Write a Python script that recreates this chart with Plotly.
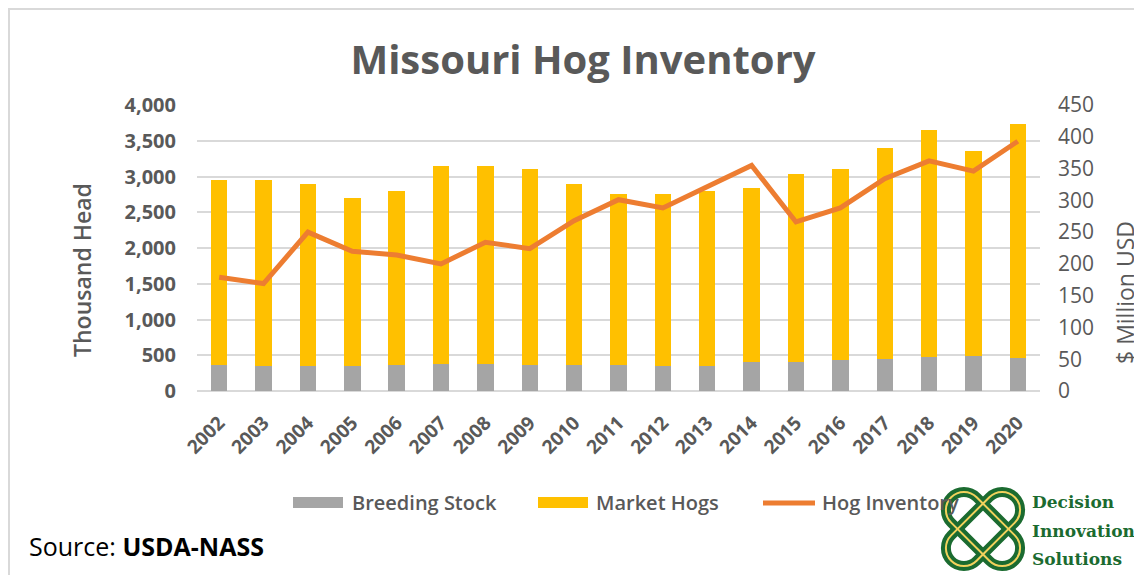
import math
import plotly.graph_objects as go

# Data (thousand head / $ million)
years = [str(y) for y in range(2002, 2021)]
breeding_stock = [360, 350, 345, 345, 360, 380, 380, 365, 365, 365, 345, 345, 400, 400, 430, 450, 475, 490, 455]
hog_totals = [2950, 2950, 2900, 2700, 2800, 3150, 3150, 3100, 2900, 2750, 2750, 2800, 2840, 3040, 3100, 3400, 3650, 3350, 3740]
market_hogs = [t - b for t, b in zip(hog_totals, breeding_stock)]
hog_inventory_value = [179, 169, 250, 220, 214, 200, 234, 224, 268, 301, 288, 322, 355, 266, 288, 334, 362, 346, 393]

# the page body has an 8px margin, so the figure starts at (8, 8)
OFF = 8
W, H = 1142 - OFF, 575 - OFF
# plot area in page pixels
L, R, T, B = 197, 1040, 105, 391

GRAY_TXT = '#595959'
GRID = '#d9d9d9'
GREEN = '#1b6b30'


def px(x):
    return (x - L) / (R - L)


def py(y):
    return (B - y) / (B - T)


def stadium(cx, cy, length, width, sign):
    # rounded loop along a diagonal, built in page pixels then mapped to paper
    u = (1 / math.sqrt(2), sign / math.sqrt(2))
    v = (1 / math.sqrt(2), -sign / math.sqrt(2))
    r = width / 2
    a = length / 2 - r
    k = 0.5523 * r

    def p(su, sv):
        x = cx + su * u[0] + sv * v[0]
        y = cy + su * u[1] + sv * v[1]
        return f'{px(x):.5f},{py(y):.5f}'

    return (f'M {p(a, r)} C {p(a + k, r)} {p(a + r, k)} {p(a + r, 0)} '
            f'C {p(a + r, -k)} {p(a + k, -r)} {p(a, -r)} '
            f'L {p(-a, -r)} C {p(-a - k, -r)} {p(-a - r, -k)} {p(-a - r, 0)} '
            f'C {p(-a - r, k)} {p(-a - k, r)} {p(-a, r)} Z')


fig = go.Figure()

fig.add_trace(go.Bar(x=years, y=breeding_stock, name='Breeding Stock',
                     marker=dict(color='#a5a5a5', line_width=0)))
fig.add_trace(go.Bar(x=years, y=market_hogs, name='Market Hogs',
                     marker=dict(color='#ffc000', line_width=0)))
fig.add_trace(go.Scatter(x=years, y=hog_inventory_value, name='Hog Inventory',
                         mode='lines', line=dict(color='#ed7d31', width=5),
                         yaxis='y2'))

shapes = []
# chart frame (top and left edges)
shapes.append(dict(type='path', xref='paper', yref='paper',
                   path=f'M {px(9)},{py(600)} L {px(9)},{py(9)} L {px(1160)},{py(9)}',
                   line=dict(color=GRID, width=2)))

# manual legend
shapes.append(dict(type='rect', xref='paper', yref='paper',
                   x0=px(293), x1=px(343), y0=py(508), y1=py(497),
                   fillcolor='#a5a5a5', line_width=0))
shapes.append(dict(type='rect', xref='paper', yref='paper',
                   x0=px(538), x1=px(588), y0=py(508), y1=py(497),
                   fillcolor='#ffc000', line_width=0))
shapes.append(dict(type='line', xref='paper', yref='paper',
                   x0=px(763), x1=px(815), y0=py(503), y1=py(503),
                   line=dict(color='#ed7d31', width=5)))

# logo knot
for sgn in (1, -1):
    shapes.append(dict(type='path', xref='paper', yref='paper',
                       path=stadium(983, 529, 90, 36, sgn),
                       line=dict(color=GREEN, width=10), layer='above'))
for sgn in (1, -1):
    shapes.append(dict(type='path', xref='paper', yref='paper',
                       path=stadium(983, 529, 90, 36, sgn),
                       line=dict(color='#f2d25c', width=2), layer='above'))


def note(text, x, y, size, color=GRAY_TXT, weight='normal', xanchor='left',
         angle=0, family='Open Sans'):
    return dict(text=text, x=px(x), y=py(y), xref='paper', yref='paper',
                xanchor=xanchor, yanchor='middle', textangle=angle, showarrow=False,
                font=dict(family=family, size=size, color=color, weight=weight))


annotations = [
    note('Thousand Head', 82, 270, 23, weight=600, xanchor='center', angle=-90),
    note('$ Million USD', 1125, 293, 23, xanchor='center', angle=-90),
    note('Breeding Stock', 350, 502, 20, weight=600),
    note('Market Hogs', 594, 502, 20, weight=600),
    note('Hog Inventory', 820, 502, 20, weight=600),
    note('Source: <b>USDA-NASS</b>', 27, 546, 25, color='#000000'),
    note('Decision', 1030, 502, 17, color=GREEN, weight='bold', family='DejaVu Serif'),
    note('Innovation', 1030, 531, 17, color=GREEN, weight='bold', family='DejaVu Serif'),
    note('Solutions', 1030, 559, 17, color=GREEN, weight='bold', family='DejaVu Serif'),
]

fig.update_layout(
    width=W, height=H,
    margin=dict(l=L - OFF, r=W - (R - OFF), t=T - OFF, b=H - (B - OFF), autoexpand=False),
    paper_bgcolor='white', plot_bgcolor='white',
    barmode='stack', bargap=0.63,
    showlegend=False,
    title=dict(text='<b>Missouri Hog Inventory</b>', x=px(583), xref='paper', xanchor='center',
               y=1 - (60 - OFF) / H, yanchor='middle',
               font=dict(family='Open Sans', size=40, color=GRAY_TXT)),
    xaxis=dict(tickangle=-45, showgrid=False, showline=False, ticks='', ticklabelstandoff=16,
               tickfont=dict(family='Open Sans', size=19, color=GRAY_TXT, weight='bold')),
    yaxis=dict(range=[0, 4000], dtick=500, tickformat=',', gridcolor=GRID, gridwidth=2,
               zeroline=True, zerolinecolor=GRID, zerolinewidth=2, ticks='',
               ticklabelstandoff=20,
               tickfont=dict(family='Open Sans', size=20, color=GRAY_TXT, weight='bold')),
    yaxis2=dict(range=[0, 450], dtick=50, overlaying='y', side='right', showgrid=False,
                zeroline=False, ticks='', ticklabelstandoff=17,
                tickfont=dict(family='Open Sans', size=21, color=GRAY_TXT)),
    shapes=shapes,
    annotations=annotations,
)

fig.write_html('out.html')
